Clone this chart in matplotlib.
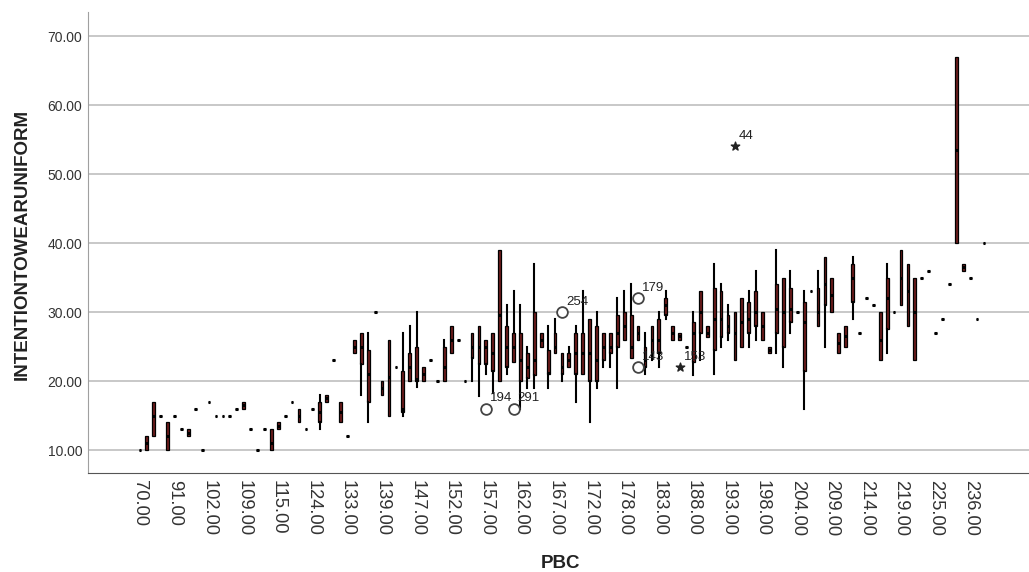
import matplotlib
matplotlib.use("Agg")
import matplotlib.pyplot as plt

plt.rcParams['font.family'] = ['Liberation Sans', 'DejaVu Sans']

# Box statistics per PBC category, index 0..122
whis_lo = [10, 10, 12, 15, 10, 15, 13, 12, 16, 10,
           17, 15, 15, 15, 16, 16, 13, 10, 13, 10,
           13, 15, 17, 14, 13, 16, 13, 17, 23, 14,
           12, 24, 18, 14, 30, 18, 15, 22, 15, 20,
           19.2, 20, 23, 20, 20, 24, 26, 20, 20, 17.8,
           21, 18.2, 20, 21, 22.8, 16, 19, 19, 25, 19,
           24, 20, 22, 17, 21, 14, 19, 22, 22, 19,
           26, 23.4, 26, 21, 23, 22, 29, 26, 26, 25,
           20.9, 23, 26.4, 21, 24.9, 26, 23, 25, 25, 26,
           26, 24, 24, 22, 27, 30, 16, 33, 28, 25,
           30, 24, 25, 29, 27, 32, 31, 23, 24, 30,
           31, 28, 23, 35, 36, 27, 29, 34, 40, 36,
           35, 29, 40]
q1 = [10, 10, 12, 15, 10, 15, 13, 12, 16, 10,
      17, 15, 15, 15, 16, 16, 13, 10, 13, 10,
      13, 15, 17, 14, 13, 16, 14, 17, 23, 14,
      12, 24, 22.5, 17, 30, 18, 15, 22, 15.5, 20,
      20, 20, 23, 20, 20, 24, 26, 20, 23.4, 22.5,
      22.5, 21.5, 20, 22, 22.8, 20, 20.4, 20.9, 25, 21,
      24, 21, 22, 21, 21, 20, 20, 23, 24, 25,
      26, 23.4, 26, 22, 24, 24, 29.6, 26, 26, 25,
      22.8, 27, 26.4, 24.5, 26.4, 27, 23, 25, 27, 28,
      26, 24, 27, 25, 28.5, 30, 21.4, 33, 28, 31,
      30, 24, 25, 31.5, 27, 32, 31, 23, 27.5, 30,
      31, 28, 23, 35, 36, 27, 29, 34, 40, 36,
      35, 29, 40]
med = [10, 11, 15, 15, 12, 15, 13, 12.5, 16, 10,
       17, 15, 15, 15, 16, 16.5, 13, 10, 13, 11,
       13.5, 15, 17, 15, 13, 16, 15.5, 17.5, 23, 15.5,
       12, 25, 25, 21, 30, 19, 20.6, 22, 16, 22,
       20.3, 21, 23, 20, 22, 26, 26, 20, 25, 25,
       25, 24, 29.6, 25, 25, 23, 22, 23, 26, 21.2,
       25, 22, 23, 24, 24, 24, 23, 25, 25, 27,
       28, 25, 27, 23, 26, 26, 31, 27, 26.5, 25,
       27, 30, 27, 29, 29, 28, 27, 28.5, 29, 30,
       28, 24.5, 30.5, 30, 30.5, 30, 28.5, 33, 30, 34,
       32.5, 25.5, 26.5, 35, 27, 32, 31, 26, 32, 30,
       35, 33, 30, 35, 36, 27, 29, 34, 53.5, 36.5,
       35, 29, 40]
q3 = [10, 12, 17, 15, 14, 15, 13, 13, 16, 10,
      17, 15, 15, 15, 16, 17, 13, 10, 13, 13,
      14, 15, 17, 16, 13, 16, 17, 18, 23, 17,
      12, 26, 27, 24.5, 30, 20, 26, 22, 21.5, 24,
      25, 22, 23, 20, 25, 28, 26, 20, 27, 28,
      26, 27, 39, 28, 27, 27, 24, 30, 27, 24.5,
      27, 24, 24, 27, 27, 29, 28, 27, 27, 29.6,
      30, 29.6, 28, 25, 28, 29, 32, 28, 27, 25,
      28.5, 33, 28, 33.5, 33, 29.6, 30, 32, 31.5, 33,
      30, 25, 34, 35, 33.5, 30, 31.5, 33, 33.5, 38,
      35, 27, 28, 37, 27, 32, 31, 30, 35, 30,
      39, 37, 35, 35, 36, 27, 29, 34, 67, 37,
      35, 29, 40]
whis_hi = [10, 12, 17, 15, 14, 15, 13, 13, 16, 10,
           17, 15, 15, 15, 16, 17, 13, 10, 13, 13,
           14, 15, 17, 16, 13, 16, 18, 18, 23, 17,
           12, 26, 27, 27, 30, 20, 26, 22, 27, 28,
           30, 22, 23, 20, 26, 28, 26, 20, 27, 28,
           26, 27, 39, 31, 33, 31, 25, 37, 27, 28,
           29, 24, 25, 28, 33, 29, 30, 27, 27, 32,
           33, 34, 28, 27, 28, 30, 33, 28, 27, 25,
           30, 33, 28, 37, 34, 31, 30, 32, 33, 36,
           30, 25, 39, 35, 36, 30, 33, 33, 36, 38,
           35, 27, 28, 38, 27, 32, 31, 30, 37, 30,
           39, 37, 35, 35, 36, 27, 29, 34, 67, 37,
           35, 29, 40]

# Labelled cases: outliers (circles) and extremes (stars)
outlier_pos = [50, 54, 61, 72, 72]
outlier_val = [16, 16, 30, 32, 22]
outlier_ids = ['194', '291', '254', '179', '143']
extreme_pos = [78, 86]
extreme_val = [22, 54]
extreme_ids = ['153', '44']

tick_pos = list(range(0, 121, 5))
tick_labels = ['70.00', '91.00', '102.00', '109.00', '115.00', '124.00', '133.00',
               '139.00', '147.00', '152.00', '157.00', '162.00', '167.00', '172.00',
               '178.00', '183.00', '188.00', '193.00', '198.00', '204.00', '209.00',
               '214.00', '219.00', '225.00', '236.00']
y_ticks = [10, 20, 30, 40, 50, 60, 70]

W, H = 1029, 572
fig = plt.figure(figsize=(W / 100, H / 100), dpi=100)
ax = fig.add_axes([88 / W, 1 - 473 / H, 1 - 88 / W, (473 - 12) / H])

stats = []
for lo, a, m, b, hi in zip(whis_lo, q1, med, q3, whis_hi):
    stats.append(dict(whislo=lo, q1=a, med=m, q3=b, whishi=hi, fliers=[]))

ax.bxp(stats, positions=range(len(stats)), widths=0.4, patch_artist=True,
       showcaps=False, showfliers=False,
       boxprops=dict(facecolor='#6e1c1c', edgecolor='black', linewidth=0.9),
       medianprops=dict(color='black', linewidth=2.2),
       whiskerprops=dict(color='black', linewidth=1.5))

ax.scatter(outlier_pos, outlier_val, s=60, facecolors='white', edgecolors='#444444',
           linewidths=1.3, zorder=5)
ax.scatter(extreme_pos, extreme_val, s=40, marker='*', color='#222222', zorder=5)
for p, v, t in zip(outlier_pos + extreme_pos, outlier_val + extreme_val,
                   outlier_ids + extreme_ids):
    ax.annotate(t, (p, v), xytext=(3, 3), textcoords='offset points',
                fontsize=9.5, color='#222222', ha='left', va='bottom')

ax.set_xlim(-7.5, 128.5)
ax.set_ylim(6.67, 73.48)
ax.set_yticks(y_ticks)
ax.set_yticklabels([f'{v:.2f}' for v in y_ticks])
ax.set_xticks(tick_pos)
ax.set_xticklabels(tick_labels, rotation=270, fontsize=13.2, color='#333333')
ax.tick_params(axis='x', length=0, pad=5)
ax.tick_params(axis='y', length=0, pad=4, labelsize=10, labelcolor='#333333')

ax.yaxis.grid(True, color='#c8c8c8', linewidth=1.4)
ax.set_axisbelow(True)
for side in ['top', 'right']:
    ax.spines[side].set_visible(False)
ax.spines['left'].set_color('#a0a0a0')
ax.spines['bottom'].set_color('#555555')

fig.text(560 / W, 1 - 563 / H, 'PBC', fontsize=13.5, fontweight='bold',
         ha='center', va='center', color='#222222')
fig.text(22 / W, 1 - 244 / H, 'INTENTIONTOWEARUNIFORM', fontsize=13.5,
         fontweight='bold', rotation=90, ha='center', va='center', color='#222222')

fig.savefig('out.png', dpi=100)
